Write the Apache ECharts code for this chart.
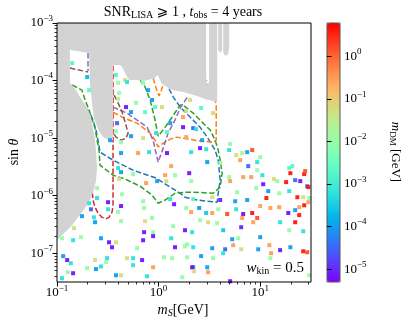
<!DOCTYPE html>
<html><head><meta charset="utf-8">
<script src="https://cdn.jsdelivr.net/npm/echarts@6/dist/echarts.min.js"></script>
<style>html,body{margin:0;padding:0;background:#fff}#c{width:407px;height:327px}</style>
</head><body><div id="c"></div>
<script>
const FONT = '"Liberation Serif","DejaVu Serif",serif';
const MATHFONT = '"Liberation Serif","DejaVu Serif","DejaVu Sans",serif';

// ---- axis ranges / tick labels ----
const X_MIN = 0.1, X_MAX = 31.62;
const Y_MIN = 3.162e-8, Y_MAX = 1e-3;
const CB_LOG_MIN = -5.3, CB_LOG_MAX = 0.78;
const xMajor = [0.1, 1, 10];
const yMajor = [1e-7, 1e-6, 1e-5, 1e-4, 1e-3];
const cbMajor = [1e-5, 1e-4, 1e-3, 1e-2, 1e-1, 1];

// ---- scatter points: m_S [GeV], sin(theta), m_DM [GeV] ----
const msGeV = [
0.141,0.198,0.207,0.381,0.399,0.468,0.489,0.408,0.399,0.478,0.600,0.536,0.390,0.381,0.536,0.333,0.427,0.704,0.736,0.704,0.788,0.863,0.924,1.08,0.945,1.30,1.74,
2.04,1.87,1.74,2.62,3.44,2.19,2.34,1.87,2.68,2.56,2.94,2.09,5.06,4.95,5.80,6.65,7.45,8.34,10.0,1.21,1.21,
0.427,0.628,0.806,1.33,0.753,0.967,1.45,2.00,1.16,2.09,1.19,3.01,4.04,4.95,5.06,6.80,8.15,9.34,10.5,13.7,10.7,7.62,9.34,6.35,12.0,9.13,5.93,
1.30,1.42,2.19,3.37,4.04,1.87,2.09,2.51,2.94,3.37,3.86,4.73,5.80,7.45,6.80,8.34,9.34,10.0,11.5,12.6,5.67,6.65,2.56,3.07,3.77,8.53,
15.4,18.9,22.1,24.2,27.1,29.7,24.2,15.4,19.3,23.2,18.0,19.3,19.8,20.7,22.1,24.8,27.1,27.7,29.0,29.7,14.7,
1.82,4.32,6.50,15.7,22.1,19.3,26.5,1.91,2.19,2.62,3.44,3.37,4.52,4.32,5.30,5.42,6.07,6.50,9.56,10.0,12.3,12.8,15.7,19.8,26.5,29.0,12.6,
2.19,3.01,3.07,1.71,5.06,26.5,30.4,30.4,
0.248,0.207,0.248,0.318,0.427,0.437,0.216,0.318,0.231,0.237,0.176,0.147,0.399,0.427,0.704,0.720,0.736,0.863,0.720,0.883,1.33,1.39,2.14,
0.271,0.325,0.381,0.348,0.614,0.704,0.883,1.13,1.36,1.45,1.82,1.91,2.14,2.24,
0.112,0.144,0.172,0.115,0.126,0.137,0.144,0.128,0.112,0.198,0.237,0.242,0.271,0.304,0.311,0.381,0.427,0.489,0.561,0.561,0.688,0.883,0.770,
0.399,0.427,0.408,0.561
];
const sinTheta = [
2.01e-4,1.15e-4,6.8e-5,1.25e-4,9.1e-5,1.02e-4,9.4e-5,6.1e-5,4.8e-5,3.46e-5,4.1e-5,2.83e-5,1.82e-5,1.32e-5,1.08e-5,9.2e-6,8.5e-6,1.0e-5,2.83e-5,9.1e-5,6.8e-5,4.6e-5,3.46e-5,3.46e-5,1.22e-5,1.82e-5,1.55e-5,
4.6e-5,2.95e-5,2.32e-5,3.33e-5,2.72e-5,1.49e-5,1.43e-5,1.04e-5,9.2e-6,6.7e-6,6.4e-6,5.7e-6,7.9e-6,6.2e-6,5.06e-6,5.5e-6,5.7e-6,6.2e-6,4.67e-6,5.5e-6,1.27e-5,
5.5e-6,5.5e-6,5.7e-6,3.26e-6,1.65e-6,1.79e-6,2.27e-6,2.46e-6,2.27e-6,1.79e-6,1.79e-6,3.83e-6,3.68e-6,2.10e-6,1.79e-6,2.10e-6,2.10e-6,2.77e-6,2.27e-6,1.94e-6,1.58e-6,3.26e-6,3.83e-6,4.14e-6,1.20e-6,1.35e-6,1.15e-6,
8.7e-7,7.1e-7,8.7e-7,9.4e-7,8.4e-7,6.1e-7,5.2e-7,6.1e-7,5.0e-7,5.0e-7,5.8e-7,4.8e-7,5.8e-7,8.4e-7,4.8e-7,5.0e-7,4.1e-7,6.6e-7,9.1e-7,6.1e-7,8.0e-7,4.1e-7,3.75e-7,3.46e-7,3.33e-7,3.46e-7,
6.3e-7,5.0e-7,5.6e-7,6.3e-7,6.8e-7,7.7e-7,4.6e-7,1.10e-6,1.20e-6,9.4e-7,1.72e-6,3.01e-6,2.46e-6,3.26e-6,1.86e-6,1.79e-6,2.37e-6,2.67e-6,1.46e-6,1.41e-6,1.79e-6,
2.51e-7,2.51e-7,2.83e-7,3.46e-7,3.46e-7,2.51e-7,2.41e-7,1.43e-7,1.27e-7,8.9e-8,8.2e-8,1.22e-7,1.17e-7,1.0e-7,1.75e-7,1.38e-7,1.82e-7,1.17e-7,1.17e-7,1.90e-7,1.38e-7,1.0e-7,1.13e-7,1.27e-7,1.08e-7,1.04e-7,8.2e-8,
5.7e-8,5.7e-8,4.67e-8,3.83e-8,3.26e-8,9.4e-7,9.1e-7,4.14e-8,
1.35e-6,7.4e-7,9.1e-7,7.7e-7,6.6e-7,1.06e-6,5.8e-7,5.8e-7,4.2e-7,3.46e-7,4.4e-7,2.72e-7,5.2e-7,3.6e-7,8.0e-7,6.1e-7,3.6e-7,4.1e-7,2.32e-7,2.32e-7,1.82e-7,2.95e-7,2.32e-7,
1.82e-7,1.55e-7,1.55e-7,1.27e-7,1.22e-7,1.68e-7,1.98e-7,8.5e-8,8.2e-8,1.27e-7,1.32e-7,8.5e-8,5.7e-8,4.86e-8,
1.82e-7,1.68e-7,1.90e-7,8.9e-8,7.6e-8,6.7e-8,4.49e-8,4.67e-8,3.68e-8,5.5e-8,7.6e-8,5.3e-8,5.9e-8,7.0e-8,8.2e-8,4.14e-8,4.14e-8,8.2e-8,8.2e-8,6.2e-8,7.6e-8,5.7e-8,3.98e-8,
3.01e-6,2.56e-6,1.94e-6,2.37e-6
];
const mDM = [
2e-3,2e-4,2e-3,2e-3,1e-2,6e-2,6e-4,1e-2,2e-2,7e-6,1e-2,1e-4,3e-5,1e-2,1e-4,1e-4,1e-2,6e-2,2e-3,1e-2,1e-4,1e-4,2e-3,6e-2,6e-4,1e-4,7e-6,
6e-2,6e-2,0.3,2e-3,8e-2,3e-5,6e-4,0.3,1e-4,7e-6,6e-4,6e-4,1e-2,6e-4,6e-2,2e-2,1e-4,1.5,1e-2,7e-6,2e-3,
1e-4,0.3,6e-4,0.3,0.3,1e-4,1e-2,7e-6,0.3,1e-2,6e-2,1e-4,1e-2,1e-2,0.3,0.3,0.3,1e-2,6e-4,6e-2,7e-6,3e-5,6e-4,0.3,1e-4,1e-2,1e-2,
6e-4,7e-6,2e-3,6e-2,1e-5,1e-2,0.3,1e-4,3e-4,0.3,1e-2,1.5,6e-4,1e-4,7e-6,4,1.5,0.3,4,0.3,1e-4,0.3,1e-2,6e-2,1e-2,0.3,
0.3,7e-6,1e-4,0.3,4,0.3,4,1e-2,6e-4,4,4,2e-3,4,2e-3,3e-5,7e-6,4,1.5,5e-5,4,1e-2,
7e-6,3e-4,1e-5,6e-4,4,1e-2,6e-4,1e-2,6e-4,1e-4,1e-2,1e-4,3e-5,6e-4,1e-4,0.3,1e-2,6e-2,1e-4,1e-4,0.3,0.3,7e-6,1e-4,4,1.5,1e-2,
1e-4,1e-4,0.3,1e-2,7e-6,6e-2,1e-2,1e-2,
1e-2,6e-4,6e-4,7e-6,7e-6,1e-2,3e-5,6e-4,6e-4,1e-4,1e-4,6e-2,1e-2,1e-2,1e-2,1e-2,6e-2,1e-2,7e-6,1e-2,6e-4,1e-2,6e-4,
1e-4,7e-6,6e-2,7e-6,1e-2,7e-6,7e-6,1e-2,1e-2,7e-6,1e-2,1e-2,7e-6,6e-2,
1e-2,6e-4,1e-2,1e-4,7e-6,6e-4,7e-6,1e-2,6e-4,1e-2,6e-2,1e-4,6e-4,1e-2,6e-4,1e-4,6e-2,6e-2,6e-4,6e-4,7e-6,0.3,6e-4,
6e-4,1e-4,6e-2,1e-2
];

// ---- dashed contour lines [m_S, sin(theta)] ----
const lineBlue = [[0.172,4.1e-5],[0.189,3.46e-5],[0.211,2.72e-5],[0.226,2.06e-5],[0.242,1.38e-5],[0.253,9.2e-6],[0.265,5.7e-6],[0.356,4.14e-6],[0.561,2.77e-6],[0.945,2.02e-6],[1.30,1.41e-6],[1.63,1.10e-6],[1.82,9.4e-7],[2.40,8.4e-7],[3.01,8.0e-7],[3.77,7.7e-7],[3.86,1.10e-6],[4.04,1.86e-6],[3.86,4.14e-6],[3.60,6.2e-6],[3.01,1.04e-5],[2.56,1.55e-5],[2.04,2.32e-5],[1.63,3.46e-5],[1.39,5.2e-5],[1.21,8.4e-5],[1.16,1.02e-4]];
const lineGreen = [[0.141,8.4e-5],[0.176,6.8e-5],[0.189,4.6e-5],[0.207,3.07e-5],[0.221,2.14e-5],[0.237,1.49e-5],[0.248,9.2e-6],[0.259,6.2e-6],[0.265,3.39e-6],[0.356,2.27e-6],[0.468,1.94e-6],[0.657,1.46e-6],[0.863,1.02e-6],[0.989,7.4e-7],[1.16,8.4e-7],[1.45,1.10e-6],[1.82,1.15e-6],[2.19,1.15e-6],[3.44,1.10e-6],[4.04,1.41e-6],[4.22,2.46e-6],[4.04,4.14e-6],[3.86,6.2e-6],[3.60,9.2e-6],[3.22,1.38e-5],[2.74,1.82e-5],[2.19,2.72e-5],[1.74,3.75e-5],[1.63,3.75e-5],[1.36,2.32e-5],[1.16,1.55e-5],[0.989,1.08e-5],[0.924,2.06e-5],[0.825,4.6e-5],[0.736,7.7e-5],[0.657,1.02e-4]];
const lineOrangeA = [[0.356,2.83e-5],[0.457,2.23e-5],[0.614,1.82e-5],[0.825,1.22e-5],[0.924,9.2e-6],[0.989,7.0e-6],[1.11,8.2e-6],[1.30,9.6e-6],[1.52,1.04e-5],[2.56,8.9e-6],[3.44,8.5e-6],[3.69,9.2e-6],[3.69,3.75e-5],[3.52,5.2e-5],[3.22,6.8e-5],[2.94,1.02e-4]];
const lineOrangeB = [[0.883,1.10e-4],[0.945,7.4e-5],[1.01,5.4e-5],[1.06,6.6e-5],[1.13,9.4e-5]];
const lineRed = [[0.356,1.8e-4],[0.356,6.8e-7],[0.348,5.2e-7],[0.325,4.2e-7],[0.304,4.0e-7],[0.277,4.2e-7],[0.253,5.0e-7],[0.237,6.3e-7],[0.226,8.4e-7],[0.221,1.35e-6]];
const linePurpleA = [[0.202,3.01e-4],[0.202,1.46e-4]];
const linePurpleB = [[0.356,3.46e-5],[0.489,2.72e-5],[0.614,2.06e-5],[0.770,1.55e-5],[0.883,9.2e-6],[0.989,3.83e-6],[1.11,6.7e-6],[1.24,1.22e-5],[1.45,2.06e-5],[1.63,3.33e-5],[1.95,5.4e-5]];
const lineBrownA = [[0.134,1.65e-4],[0.202,1.41e-4]];
const lineBrownB = [[0.365,5.6e-5],[0.399,4.1e-5],[0.437,2.83e-5],[0.468,1.90e-5],[0.501,1.22e-5],[0.478,1.0e-5],[0.427,9.2e-6],[0.381,1.04e-5],[0.365,1.17e-5]];

// ---- excluded (grey) region outlines [m_S, sin(theta)] ----
const greyMain = [[0.1,1e-3],[2.94,1e-3],[2.94,9.1e-5],[3.14,9.1e-5],[3.14,1e-3],[3.77,1e-3],[3.77,4.2e-5],[2.87,4.8e-5],[2.40,5.4e-5],[1.74,6.3e-5],[1.39,6.8e-5],[1.21,7.7e-5],[1.08,8.7e-5],[0.989,1.20e-4],[0.967,1.25e-4],[0.924,1.10e-4],[0.704,9.8e-5],[0.614,1.02e-4],[0.512,1.02e-4],[0.489,1.15e-4],[0.468,1.35e-4],[0.437,1.72e-4],[0.418,1.86e-4],[0.356,1.86e-4],[0.356,9.2e-6],[0.290,1.0e-5],[0.259,1.32e-5],[0.231,2.23e-5],[0.221,4.1e-5],[0.211,9.1e-5],[0.207,3.01e-4],[0.134,3.39e-4],[0.134,9.1e-5],[0.147,7.7e-5],[0.169,5.2e-5],[0.193,3.6e-5],[0.207,2.83e-5],[0.216,2.14e-5],[0.226,1.49e-5],[0.237,9.2e-6],[0.242,5.7e-6],[0.248,3.01e-6],[0.242,1.86e-6],[0.231,1.25e-6],[0.216,9.1e-7],[0.198,6.8e-7],[0.180,5.4e-7],[0.161,4.2e-7],[0.141,3.07e-7],[0.120,2.32e-7],[0.1,1.68e-7]];
const greySpikeA = [[3.86,1e-3],[3.86,3.39e-4],[4.04,3.01e-4],[4.22,3.39e-4],[4.22,1e-3]];
const greySpikeB = [[4.32,1e-3],[4.32,3.13e-4],[4.52,2.67e-4],[4.84,2.89e-4],[4.95,3.67e-4],[4.95,1e-3]];

// ---- colormap (matplotlib "rainbow") ----
function rainbow(t){
  const r = Math.min(1, Math.abs(2*t - 0.5)), g = Math.sin(Math.PI*t), b = Math.cos(Math.PI*t/2);
  const h = v => Math.round(Math.max(0,Math.min(1,v))*255).toString(16).padStart(2,'0');
  return '#' + h(r) + h(g) + h(b);
}
const cmap = []; for (let i = 0; i <= 24; i++) cmap.push(rainbow(i/24));

function minorValues(lo, hi){ const out=[]; for (let d=lo; d<hi; d++){ for (let k=2;k<=9;k++) out.push(k*Math.pow(10,d)); } return out; }
const xMinor = minorValues(-1, 2).filter(v => v < X_MAX);
const yMinor = minorValues(-8, -3).filter(v => v > Y_MIN);

function pow10Label(v){
  const e = Math.round(Math.log10(v));
  return '{b|10}{e|' + (e < 0 ? '\u2212' + (-e) : e) + '}';
}
const tickRich = {
  b: {fontFamily: FONT, fontSize: 13, color: '#000'},
  e: {fontFamily: FONT, fontSize: 9, color: '#000', padding: [0,0,9,0]}
};
const tickStyle = {color: '#000', width: 1};

function greySeries(poly){
  return {
    type: 'custom', xAxisIndex: 0, yAxisIndex: 0, z: 4, silent: true, clip: true,
    data: [[poly[0][0], poly[0][1]]],
    renderItem: function(params, api){
      return {type: 'polygon', shape: {points: poly.map(p => api.coord(p))}, style: {fill: '#d3d3d3', stroke: null}};
    }
  };
}
function dashed(data, color){
  return {type: 'line', xAxisIndex: 0, yAxisIndex: 0, data: data, z: 2, showSymbol: false, symbol: 'none', silent: true,
    lineStyle: {color: color, width: 1.5, type: [5.5, 2.4]}};
}

const chart = echarts.init(document.getElementById('c'));
const scatterData = msGeV.map((x, i) => [x, sinTheta[i], mDM[i], Math.log10(mDM[i])]);

chart.setOption({
  animation: false,
  backgroundColor: '#fff',
  grid: [
    {left: 57, top: 23, width: 254, height: 259, show: true, borderColor: '#000', borderWidth: 1, backgroundColor: 'transparent', z: 10},
    {left: 327, top: 23, width: 13, height: 259, show: true, borderColor: '#555', borderWidth: 1, backgroundColor: 'transparent', z: 10}
  ],
  xAxis: [
    {type: 'log', gridIndex: 0, min: X_MIN, max: X_MAX, position: 'bottom', z: 10,
     axisLine: {show: false}, splitLine: {show: false},
     axisTick: {show: true, length: 4.5, customValues: xMajor, lineStyle: tickStyle},
     axisLabel: {customValues: xMajor, formatter: pow10Label, rich: tickRich, margin: 2}},
    {type: 'log', gridIndex: 0, min: X_MIN, max: X_MAX, position: 'bottom', z: 10,
     axisLine: {show: false}, splitLine: {show: false},
     axisTick: {show: true, length: 2.5, customValues: xMinor, lineStyle: {color: '#000', width: 0.8}},
     axisLabel: {show: false}},
    {type: 'value', gridIndex: 1, show: false, min: 0, max: 1}
  ],
  yAxis: [
    {type: 'log', gridIndex: 0, min: Y_MIN, max: Y_MAX, position: 'left', z: 10,
     axisLine: {show: false}, splitLine: {show: false},
     axisTick: {show: true, length: 4.5, customValues: yMajor, lineStyle: tickStyle},
     axisLabel: {customValues: yMajor, formatter: pow10Label, rich: tickRich, margin: 4}},
    {type: 'log', gridIndex: 0, min: Y_MIN, max: Y_MAX, position: 'left', z: 10,
     axisLine: {show: false}, splitLine: {show: false},
     axisTick: {show: true, length: 2.5, customValues: yMinor, lineStyle: {color: '#000', width: 0.8}},
     axisLabel: {show: false}},
    {type: 'log', gridIndex: 1, min: Math.pow(10, CB_LOG_MIN), max: Math.pow(10, CB_LOG_MAX), position: 'right', z: 10,
     axisLine: {show: false}, splitLine: {show: false},
     axisTick: {show: true, length: 4.5, customValues: cbMajor, lineStyle: tickStyle},
     axisLabel: {customValues: cbMajor, formatter: pow10Label, rich: tickRich, margin: 4}}
  ],
  visualMap: [{
    type: 'continuous', show: true, seriesIndex: 0, dimension: 3,
    min: CB_LOG_MIN, max: CB_LOG_MAX, calculable: false, hoverLink: false,
    orient: 'vertical', left: 327, top: 23, itemWidth: 13, itemHeight: 259, padding: 0,
    text: null, inRange: {color: cmap}
  }],
  series: [
    {type: 'scatter', xAxisIndex: 0, yAxisIndex: 0, data: scatterData, symbol: 'rect', symbolSize: 4, z: 5, silent: true,
     itemStyle: {opacity: 0.95}},
    dashed(lineBlue, '#1f77b4'),
    dashed(lineGreen, '#2ca02c'),
    dashed(lineOrangeA, '#ff7f0e'),
    dashed(lineOrangeB, '#ff7f0e'),
    dashed(lineRed, '#d62728'),
    dashed(linePurpleA, '#9467bd'),
    dashed(linePurpleB, '#9467bd'),
    dashed(lineBrownA, '#8c564b'),
    dashed(lineBrownB, '#8c564b'),
    greySeries(greyMain),
    greySeries(greySpikeA),
    greySeries(greySpikeB)
  ],
  graphic: [
    {type: 'text', x: 183, y: 12, z: 20, style: {
      text: '{n|SNR}{s|LISA}{n| \u2A7E 1 , }{i|t}{s|obs}{n| = 4 years}', align: 'center', verticalAlign: 'middle',
      rich: {n: {fontFamily: MATHFONT, fontSize: 14, color: '#000'}, i: {fontFamily: FONT, fontStyle: 'italic', fontSize: 14, color: '#000'},
             s: {fontFamily: FONT, fontSize: 10, color: '#000', padding: [7,0,0,0]}}}},
    {type: 'text', x: 183, y: 310, z: 20, style: {
      text: '{i|m}{s|S}{n|[GeV]}', align: 'center', verticalAlign: 'middle',
      rich: {n: {fontFamily: FONT, fontSize: 14, color: '#000'}, i: {fontFamily: FONT, fontStyle: 'italic', fontSize: 14, color: '#000'},
             s: {fontFamily: FONT, fontStyle: 'italic', fontSize: 10, color: '#000', padding: [7,0,0,0]}}}},
    {type: 'text', x: 14, y: 152, rotation: Math.PI/2, z: 20, style: {
      text: '{n|sin }{i|\u03B8}', align: 'center', verticalAlign: 'middle',
      rich: {n: {fontFamily: FONT, fontSize: 14, color: '#000'}, i: {fontFamily: FONT, fontStyle: 'italic', fontSize: 14, color: '#000'}}}},
    {type: 'text', x: 395, y: 152, rotation: -Math.PI/2, z: 20, style: {
      text: '{i|m}{s|DM}{n| [GeV]}', align: 'center', verticalAlign: 'middle',
      rich: {n: {fontFamily: FONT, fontSize: 13, color: '#000'}, i: {fontFamily: FONT, fontStyle: 'italic', fontSize: 13, color: '#000'},
             s: {fontFamily: FONT, fontSize: 9, color: '#000', padding: [6,0,0,0]}}}},
    {type: 'text', x: 304, y: 268, z: 20, style: {
      text: '{i|w}{s|kin}{n| = 0.5}', align: 'right', verticalAlign: 'middle',
      rich: {n: {fontFamily: FONT, fontSize: 15, color: '#000'}, i: {fontFamily: FONT, fontStyle: 'italic', fontSize: 15, color: '#000'},
             s: {fontFamily: FONT, fontSize: 10, color: '#000', padding: [7,0,0,0]}}}}
  ]
});
</script></body></html>
